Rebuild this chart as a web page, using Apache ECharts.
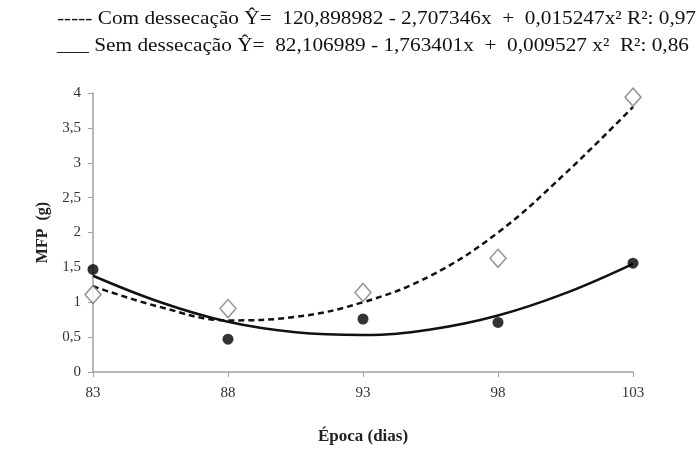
<!DOCTYPE html>
<html>
<head>
<meta charset="utf-8">
<script src="https://cdn.jsdelivr.net/npm/echarts@6/dist/echarts.min.js"></script>
<style>
  html, body { margin: 0; padding: 0; background: #fff; }
  #chart { width: 700px; height: 450px; }
</style>
</head>
<body>
<div id="chart"></div>
<script>
// dias (categorias, meio-passos só para a curva)
var dias = ['83', '85,5', '88', '90,5', '93', '95,5', '98', '100,5', '103'];
// curvas ajustadas
var comCurva = [1.23, 0.93, 0.74, 0.79, 1.0, 1.38, 2.0, 2.85, 3.8];
var semCurva = [1.38, 1.0, 0.72, 0.57, 0.53, 0.61, 0.81, 1.13, 1.55];
// valores observados
var comObs = [1.11, null, 0.91, null, 1.14, null, 1.63, null, 3.94];
var semObs = [1.47, null, 0.47, null, 0.76, null, 0.71, null, 1.56];

var legCom = '----- Com dessecação Ŷ=  120,898982 - 2,707346x  +  0,015247x² R²: 0,97';
var legSem = '___ Sem dessecação Ŷ=  82,106989 - 1,763401x  +  0,009527 x²  R²: 0,86';

var serif = '"Liberation Serif", "DejaVu Serif", serif';

function pts (arr) {
  var out = [];
  for (var i = 0; i < arr.length; i++) {
    if (arr[i] != null) out.push([dias[i], arr[i]]);
  }
  return out;
}

var chart = echarts.init(document.getElementById('chart'));
var option = {
  backgroundColor: '#fff',
  animation: false,
  grid: { left: 93, right: 67, top: 93, bottom: 77 },
  graphic: [
    { type: 'text', x: 57, y: 10, scaleX: 1.12, style: { text: legCom, font: '19px ' + serif, fill: '#111', verticalAlign: 'top' } },
    { type: 'text', x: 57, y: 37, scaleX: 1.12, style: { text: legSem, font: '19px ' + serif, fill: '#111', verticalAlign: 'top' } }
  ],
  xAxis: {
    type: 'category',
    data: dias,
    boundaryGap: false,
    name: 'Época (dias)',
    nameLocation: 'middle',
    nameGap: 56,
    nameTextStyle: { fontFamily: serif, fontSize: 17, fontWeight: 'bold', color: '#222' },
    axisLine: { lineStyle: { color: '#a0a0a0', width: 1.5 } },
    axisTick: { show: true, interval: 1, length: 5, lineStyle: { color: '#a0a0a0' } },
    axisLabel: { interval: 1, margin: 14, fontFamily: serif, fontSize: 15, color: '#333' },
    splitLine: { show: false }
  },
  yAxis: {
    type: 'value',
    min: 0,
    max: 4,
    interval: 0.5,
    name: 'MFP  (g)',
    nameLocation: 'middle',
    nameGap: 42,
    nameRotate: 90,
    nameTextStyle: { fontFamily: serif, fontSize: 16, fontWeight: 'bold', color: '#222' },
    axisLine: { show: true, lineStyle: { color: '#a0a0a0', width: 1.5 } },
    axisTick: { show: true, length: 5, lineStyle: { color: '#a0a0a0' } },
    axisLabel: {
      margin: 12, fontFamily: serif, fontSize: 15, color: '#333',
      formatter: function (v) { return String(v).replace('.', ','); }
    },
    splitLine: { show: false }
  },
  series: [
    {
      name: 'Com dessecação',
      type: 'line',
      data: comCurva,
      smooth: 0.4,
      showSymbol: false,
      lineStyle: { color: '#111', width: 2.5, type: [6, 4] },
      z: 2
    },
    {
      name: 'Sem dessecação',
      type: 'line',
      data: semCurva,
      smooth: 0.4,
      showSymbol: false,
      lineStyle: { color: '#111', width: 2.5, type: 'solid' },
      z: 2
    },
    {
      type: 'scatter',
      data: pts(comObs),
      symbol: 'diamond',
      symbolSize: [16, 18],
      itemStyle: { color: '#fff', borderColor: '#777', borderWidth: 1.5 },
      z: 3
    },
    {
      type: 'scatter',
      data: pts(semObs),
      symbol: 'circle',
      symbolSize: 11,
      itemStyle: { color: '#000' },
      z: 4
    }
  ]
};
chart.setOption(option);
</script>
</body>
</html>
